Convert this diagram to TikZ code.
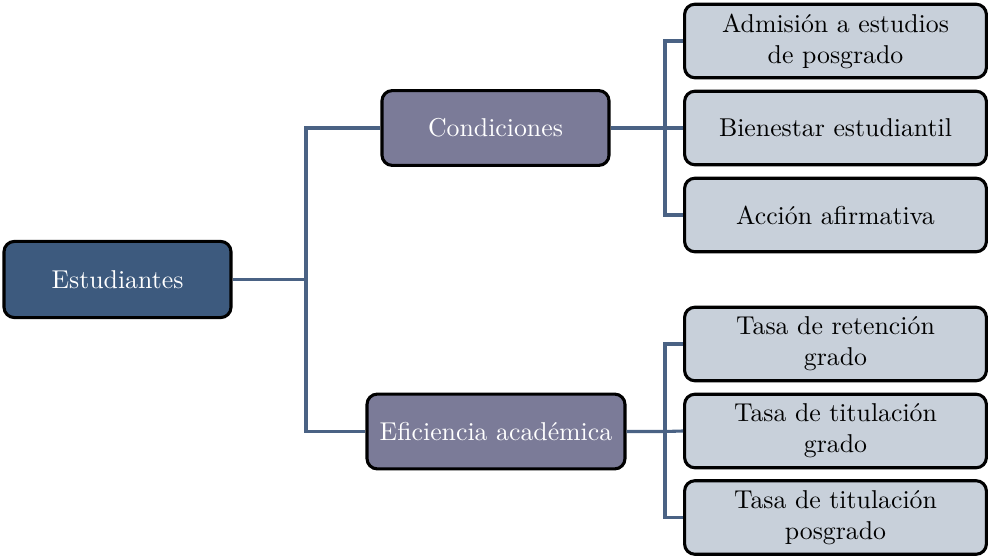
\documentclass[tikz,border=0pt]{standalone}
\usepackage{tikz}
\usetikzlibrary{positioning}

\definecolor{rootblue}{HTML}{3D5A7E}
\definecolor{midgray}{HTML}{7B7B98}
\definecolor{leafgray}{HTML}{C8D0DA}
\definecolor{linkblue}{HTML}{4A6284}

\begin{document}
\begin{tikzpicture}[x=0.3876pt,y=-0.3876pt,
    box/.style={draw=black,line width=1.2pt,rounded corners=4pt,align=center,inner sep=2pt},
    root node/.style={box,fill=rootblue,text=white,minimum width=88pt,minimum height=29.5pt},
    mid node/.style={box,fill=midgray,text=white,minimum height=29pt},
    leaf node/.style={box,fill=leafgray,text=black,minimum width=117pt,minimum height=28.5pt,text width=110pt},
    link/.style={draw=linkblue,line width=1.2pt}]

\useasboundingbox (0,0) rectangle (989,559);

\node[root node]                    (est)  at (117.5,279.5) {Estudiantes};
\node[mid node,minimum width=88pt]  (cond) at (495.5,128)   {Condiciones};
\node[mid node,minimum width=100pt] (efi)  at (496,431.5)   {Eficiencia acad\'emica};

\node[leaf node] (adm)  at (835.5,41)    {Admisi\'on a estudios\\de posgrado};
\node[leaf node] (bien) at (835.5,128)   {Bienestar estudiantil};
\node[leaf node] (acc)  at (835.5,215)   {Acci\'on afirmativa};
\node[leaf node] (ret)  at (835.5,344)   {Tasa de retenci\'on\\grado};
\node[leaf node] (titg) at (835.5,431)   {Tasa de titulaci\'on\\grado};
\node[leaf node] (titp) at (835.5,517.5) {Tasa de titulaci\'on\\posgrado};

\coordinate (j1) at (306,279.5);
\coordinate (j2) at (665,128);
\coordinate (j3) at (665,431.5);

\path[link] (est) -- (j1);
\path[link] (cond.west) -| (j1) |- (efi.west);
\path[link] (cond) -- (j2) -- (bien.west);
\path[link] (adm.west) -| (j2) |- (acc.west);
\path[link] (efi) -- (j3) -- (titg.west);
\path[link] (ret.west) -| (j3) |- (titp.west);
\end{tikzpicture}
\end{document}
